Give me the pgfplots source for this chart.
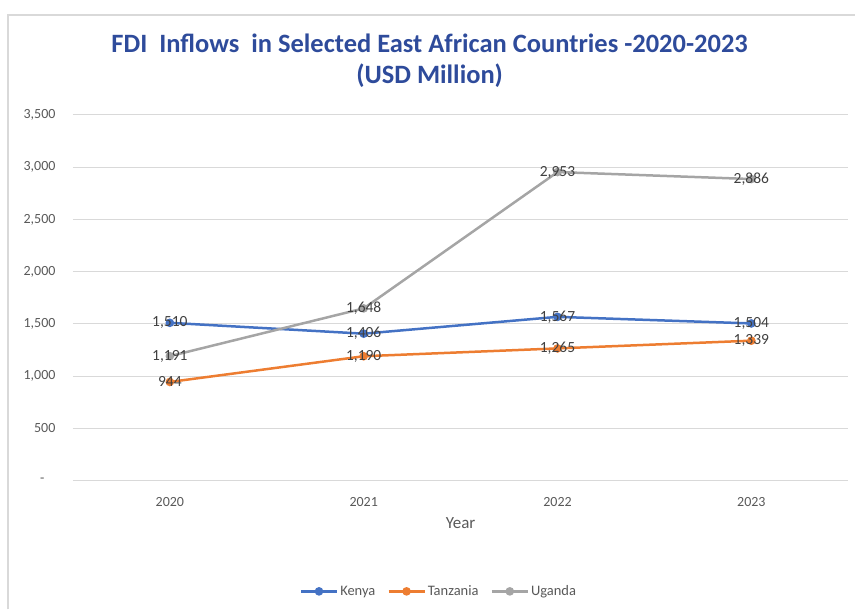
\documentclass[border=0pt]{standalone}
\usepackage{pgfplots}
\pgfplotsset{compat=1.18}
\usepackage{fontspec}
\setmainfont{Carlito}
\definecolor{kenya}{HTML}{4472C4}
\definecolor{tanz}{HTML}{ED7D31}
\definecolor{ugan}{HTML}{A5A5A5}
\definecolor{titleblue}{HTML}{2E4B9B}
\definecolor{lbl}{HTML}{595959}
\definecolor{dlbl}{HTML}{404040}
\begin{document}
\begin{tikzpicture}[x=1pt,y=1pt]
\path (0,0) rectangle (856,610);
\draw[color=black!15, line width=1.5pt] (8,0) -- (8,595) -- (856,595);
\node[font=\fontsize{26.5}{31}\selectfont\bfseries, text=titleblue, align=center] at (430,549.5) {FDI\ \ Inflows\ \ in Selected East African Countries -2020-2023\\(USD Million)};
\begin{axis}[at={(73pt,129pt)}, anchor=south west, scale only axis,
  width=776pt, height=366pt,
  xmin=-0.5, xmax=3.5, ymin=0, ymax=3500,
  xtick={0,1,2,3}, xticklabels={2020,2021,2022,2023},
  ytick={0,500,1000,1500,2000,2500,3000,3500},
  yticklabels={-\hspace*{11pt},500,{1,000},{1,500},{2,000},{2,500},{3,000},{3,500}},
  ymajorgrids, grid style={black!15, line width=1pt},
  axis line style={draw=none}, major tick length=0pt,
  ticklabel style={font=\fontsize{14}{16}\selectfont, text=lbl},
  yticklabel style={anchor=east, xshift=-14pt},
  xticklabel style={yshift=-13pt},
  xlabel={Year}, xlabel style={font=\fontsize{17}{19}\selectfont, text=lbl, yshift=-4pt},
  /pgf/number format/assume math mode=true,
  /pgf/number format/1000 sep={,},
  nodes near coords,
  every node near coord/.style={anchor=center, font=\fontsize{15.5}{17}\selectfont, text=dlbl},
  legend columns=3,
  legend style={at={(0.472,-0.303)}, anchor=center, draw=none, font=\fontsize{14.5}{16}\selectfont, text=lbl, /tikz/every even column/.append style={column sep=10pt}},
  legend image code/.code={\draw[#1, mark repeat=2, mark phase=2] plot coordinates {(0pt,0pt) (18pt,0pt) (36pt,0pt)};},
  every axis plot/.append style={line width=2.5pt, mark=*, mark size=3pt},
]
\addplot[kenya, mark options={fill=kenya, draw=kenya}] coordinates {(0,1510) (1,1406) (2,1567) (3,1504)};
\addlegendentry{Kenya}
\addplot[tanz, mark options={fill=tanz, draw=tanz}] coordinates {(0,944) (1,1190) (2,1265) (3,1339)};
\addlegendentry{Tanzania}
\addplot[ugan, mark options={fill=ugan, draw=ugan}] coordinates {(0,1191) (1,1648) (2,2953) (3,2886)};
\addlegendentry{Uganda}
\end{axis}
\end{tikzpicture}
\end{document}
